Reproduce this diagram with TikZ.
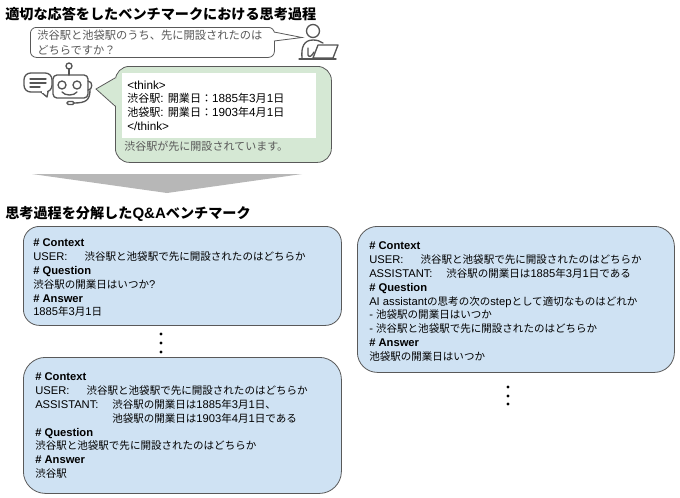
\documentclass[tikz,border=0pt]{standalone}
\usepackage{fontspec}
\setmainfont{Liberation Sans}
\newfontfamily\jpfont[Scale=0.94]{Noto Sans CJK JP}
\newcommand\jp[1]{{\jpfont #1}}
\newcommand\usr{\makebox[38.5pt][l]{USER:}}
\newcommand\asst{\makebox[57.75pt][l]{ASSISTANT:}}
\definecolor{colorqa}{HTML}{CFE2F3}
\definecolor{colorans}{HTML}{D5E8D4}
\definecolor{coloricon}{HTML}{555555}
\definecolor{colorgray}{HTML}{595959}
\definecolor{colorarrow}{HTML}{B7B7B7}
\tikzset{heading/.style={anchor=north west, inner sep=0pt, font=\fontsize{11.28}{13}\selectfont\bfseries}}
\tikzset{qabox/.style={draw=colorgray, fill=colorqa, line width=0.6pt, anchor=north west, inner sep=0pt}}
\tikzset{qatext/.style={anchor=north west, inner sep=0pt, align=left, font=\fontsize{8.4}{10.4}\selectfont}}
\tikzset{bubbletext/.style={anchor=north west, inner sep=0pt, align=left, font=\fontsize{8.8}{10.2}\selectfont}}
\tikzset{vdot/.style={circle, fill=black, inner sep=0pt, minimum size=2.4pt}}
\tikzset{icon/.style={draw=coloricon, line width=1pt, line cap=round, line join=round}}
\begin{document}
\begin{tikzpicture}[x=0.75pt,y=-0.75pt]
\useasboundingbox (0,0) rectangle (680,497);

\node[heading](title1) at (5,6.5) {\jp{適切な応答をしたベンチマークにおける思考過程}};

\node[draw=colorgray, line width=0.6pt, fill=white, rounded corners=4.5pt, anchor=north west, inner sep=0pt, minimum width=183pt, minimum height=22.5pt](qbubble) at (30,27) {};
\fill[white] (273,32) -- (302,37.5) -- (273,41) -- cycle;
\draw[draw=colorgray, line width=0.6pt] (274,32) -- (302,37.5) -- (274,41);
\node[bubbletext, text=colorgray, font=\fontsize{8.98}{11.2}\selectfont](question) at (37,29.5)
{\jp{渋谷駅と池袋駅のうち、先に開設されたのは}\\\jp{どちらですか？}};

\draw[icon] (313,31) circle (6.5);
\draw[icon] (302,58) .. controls (301,47) and (304,40) .. (313,40) .. controls (317,40) and (320,41) .. (323,43);
\draw[icon] (308,48) -- (308,55) .. controls (309,58) and (312,56) .. (314,52);
\draw[icon] (318,45) -- (338,45) -- (333,58) -- (313,58) -- cycle;
\draw[icon] (299,59) -- (336,59);

\node[draw=colorgray, line width=0.6pt, fill=colorans, rounded corners=10.5pt, anchor=north west, inner sep=0pt, minimum width=162pt, minimum height=72pt](abubble) at (115,66) {};
\fill[colorans] (116,78) -- (96,89) -- (116,106) -- cycle;
\draw[draw=colorgray, line width=0.6pt] (115,78) -- (96,89) -- (115,106);
\node[fill=white, inner sep=0pt, minimum width=145.5pt, minimum height=48.75pt, anchor=north west](thinkbox) at (122,73) {};
\node[bubbletext](think) at (127,80.5)
{<think>\\\jp{渋谷駅}: \jp{開業日：}1885\jp{年}3\jp{月}1\jp{日}\\\jp{池袋駅}: \jp{開業日：}1903\jp{年}4\jp{月}1\jp{日}\\</think>};
\node[bubbletext, text=colorgray](answer) at (124,141) {\jp{渋谷駅が先に開設されています。}};

\draw[icon, rounded corners=3pt] (53,75) rectangle (88,98);
\draw[icon] (69,75) -- (69,69);
\draw[icon] (69,66) circle (3);
\draw[icon] (62,85) circle (4);
\draw[icon] (77,85) circle (4);
\draw[icon] (62,92) .. controls (65,96) and (74,96) .. (77,92);
\draw[icon] (88,81) .. controls (93,81) and (93,90) .. (88,90);
\draw[icon] (90,90) .. controls (90,100) and (86,103) .. (74,103);
\draw[icon, rounded corners=1pt] (67,101.5) rectangle (74,104.5);
\draw[icon, fill=white, rounded corners=5pt] (24,73) rectangle (52,92);
\draw[icon, fill=white] (41,92) -- (47,97) -- (48,92);
\draw[white, line width=1pt] (42,92) -- (47,92);
\draw[icon] (30,79) -- (46,79);
\draw[icon] (30,83) -- (46,83);
\draw[icon] (30,87) -- (40,87);

\fill[colorarrow] (32,174) -- (302,174) -- (167,193) -- cycle;

\node[heading](title2) at (5,206) {\jp{思考過程を分解した}Q\&A\jp{ベンチマーク}};

\node[qabox, minimum width=238.5pt, minimum height=74.25pt, rounded corners=12pt](box1) at (23,226) {};
\node[qatext](text1) at (33,238.5)
{\textbf{\# Context}\\
\usr\jp{渋谷駅と池袋駅で先に開設されたのはどちらか}\\
\textbf{\# Question}\\
\jp{渋谷駅の開業日はいつか}?\\
\textbf{\# Answer}\\
1885\jp{年}3\jp{月}1\jp{日}};

\foreach \y in {334,343,352}
  \node[vdot](dotl\y) at (161,\y) {};

\node[qabox, minimum width=238.5pt, minimum height=102pt, rounded corners=16.5pt](box2) at (23,357) {};
\node[qatext](text2) at (35,372.5)
{\textbf{\# Context}\\
\usr\jp{渋谷駅と池袋駅で先に開設されたのはどちらか}\\
\asst\jp{渋谷駅の開業日は}1885\jp{年}3\jp{月}1\jp{日、}\\
\hspace*{57.75pt}\jp{池袋駅の開業日は}1903\jp{年}4\jp{月}1\jp{日である}\\
\textbf{\# Question}\\
\jp{渋谷駅と池袋駅で先に開設されたのはどちらか}\\
\textbf{\# Answer}\\
\jp{渋谷駅}};

\node[qabox, minimum width=237.75pt, minimum height=109.5pt, rounded corners=15pt](box3) at (357,226) {};
\node[qatext](text3) at (369,241.5)
{\textbf{\# Context}\\
\usr\jp{渋谷駅と池袋駅で先に開設されたのはどちらか}\\
\asst\jp{渋谷駅の開業日は}1885\jp{年}3\jp{月}1\jp{日である}\\
\textbf{\# Question}\\
AI assistant\jp{の思考の次の}step\jp{として適切なものはどれか}\\
- \jp{池袋駅の開業日はいつか}\\
- \jp{渋谷駅と池袋駅で先に開設されたのはどちらか}\\
\textbf{\# Answer}\\
\jp{池袋駅の開業日はいつか}};

\foreach \y in {387,396,404}
  \node[vdot](dotr\y) at (508,\y) {};
\end{tikzpicture}
\end{document}
